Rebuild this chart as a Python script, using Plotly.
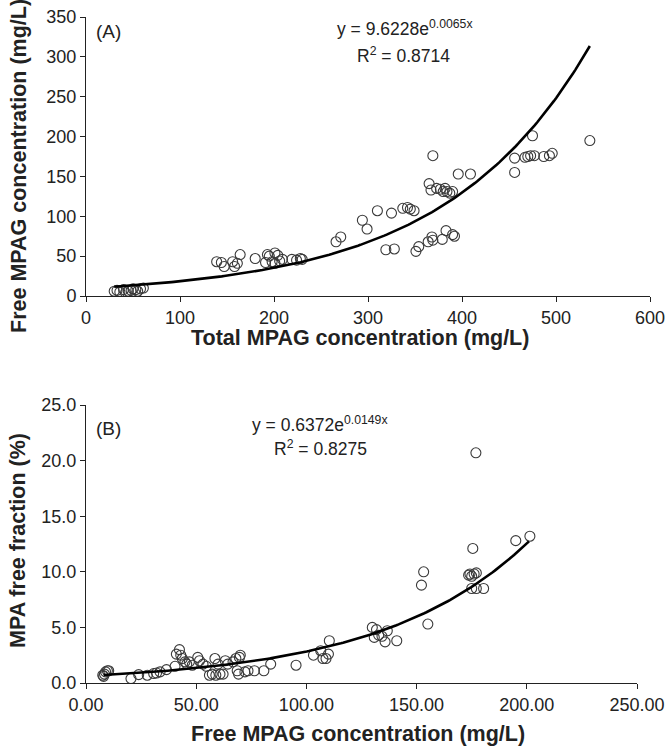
import numpy as np
import plotly.graph_objects as go

# Panel A: Total vs Free MPAG
a_total = [30, 33, 36, 40, 42, 45, 48, 50, 53, 55, 58, 61,
           139, 144, 147, 156, 158, 161, 164, 180, 191, 193, 195, 198, 201, 201, 204, 206, 209, 219, 224, 228, 230,
           266, 271, 294, 299, 310, 319, 325, 328, 337, 342, 345, 349, 351, 354, 364, 368, 369,
           365, 367, 369, 373, 377, 380, 382, 384, 387, 390, 379, 383, 390, 392, 396, 409,
           456, 456, 467, 470, 473, 475, 477, 487, 493, 496, 536]
a_free = [6, 7, 5, 8, 4, 6, 7, 9, 8, 6, 9, 10,
          43, 42, 37, 43, 37, 41, 52, 47, 42, 52, 50, 43, 54, 41, 51, 44, 46, 46, 45, 47, 46,
          68, 74, 95, 84, 107, 58, 104, 59, 110, 111, 109, 107, 56, 62, 68, 74, 70,
          141, 133, 176, 135, 134, 131, 135, 131, 129, 131, 71, 82, 77, 75, 153, 153,
          155, 173, 174, 175, 176, 201, 176, 175, 176, 179, 195]

# Panel B: Free MPAG vs MPA free fraction
b_free = [7.6, 8.4, 8.9, 9.7, 10.3, 8.0, 20.4, 23.9, 27.8, 30.7, 32.0, 33.6, 36.5, 40.4, 41.0, 42.4, 43.0, 43.7,
          44.9, 45.7, 46.9, 48.2, 50.7, 51.5, 53.1, 54.6, 56.0, 57.3, 58.5, 58.9, 59.9, 60.8, 62.2, 63.2, 64.3,
          66.7, 68.0, 68.6, 69.6, 70.0, 69.2, 72.1, 73.5, 76.4, 80.7, 83.8, 95.3, 103.2, 106.5, 107.5, 108.9,
          110.0, 110.4, 129.9, 130.8, 131.8, 132.8, 134.3, 135.7, 136.7, 141.0, 152.2, 153.2, 155.1,
          173.6, 174.2, 175.0, 175.5, 176.1, 177.1, 176.9, 175.0, 177.1, 180.4, 195.0, 201.4]
b_frac = [0.7, 0.8, 1.0, 1.1, 1.1, 0.6, 0.4, 0.75, 0.7, 0.85, 0.9, 1.0, 1.2, 1.5, 2.6, 3.0, 2.5, 2.2,
          1.9, 1.7, 1.9, 1.6, 2.3, 2.0, 1.7, 1.5, 0.7, 0.8, 2.2, 0.7, 1.7, 0.8, 0.8, 2.0, 1.7,
          1.9, 2.2, 1.1, 2.3, 2.5, 0.8, 1.0, 1.1, 1.1, 1.1, 1.7, 1.6, 2.5, 2.9, 2.2, 2.2,
          2.6, 3.8, 5.0, 4.1, 4.8, 4.3, 4.2, 3.7, 4.7, 3.8, 8.8, 10.0, 5.3,
          9.7, 9.8, 9.6, 12.1, 9.8, 9.9, 20.7, 8.5, 8.5, 8.5, 12.8, 13.2]

# Exponential trendlines (from reported equations)
a_coef, a_rate, a_xmin, a_xmax = 9.6228, 0.0065, 30, 536
b_coef, b_rate, b_xmin, b_xmax = 0.6372, 0.0149, 8, 201

W, H = 670, 749
def px(x): return x / W
def py(y): return 1 - y / H

fig = go.Figure()
marker = dict(symbol="circle-open", size=10, color="#3a3a3a", line=dict(width=1.1, color="#3a3a3a"))

fig.add_trace(go.Scatter(x=a_total, y=a_free, mode="markers", marker=marker,
                         xaxis="x", yaxis="y", showlegend=False))
xa = np.linspace(a_xmin, a_xmax, 200)
fig.add_trace(go.Scatter(x=xa, y=a_coef * np.exp(a_rate * xa), mode="lines",
                         line=dict(color="black", width=2.6), xaxis="x", yaxis="y", showlegend=False))

fig.add_trace(go.Scatter(x=b_free, y=b_frac, mode="markers", marker=marker,
                         xaxis="x2", yaxis="y2", showlegend=False))
xb = np.linspace(b_xmin, b_xmax, 200)
fig.add_trace(go.Scatter(x=xb, y=b_coef * np.exp(b_rate * xb), mode="lines",
                         line=dict(color="black", width=2.6), xaxis="x2", yaxis="y2", showlegend=False))

tf = "Liberation Sans, Arial, sans-serif"
font_tick = dict(family=tf, size=18, color="#222222")
axis_common = dict(showgrid=False, zeroline=False, showline=True, linecolor="#222222", linewidth=1,
                   ticks="outside", ticklen=5, tickcolor="#222222", tickfont=font_tick, automargin=False)

fig.update_layout(
    width=W, height=H, plot_bgcolor="white", paper_bgcolor="white",
    margin=dict(l=0, r=0, t=0, b=0),
    xaxis=dict(domain=[px(86), px(650)], range=[0, 600], tickvals=[0, 100, 200, 300, 400, 500, 600],
               anchor="y", **axis_common),
    yaxis=dict(domain=[py(296), py(17)], range=[0, 350], tickvals=[0, 50, 100, 150, 200, 250, 300, 350],
               anchor="x", **axis_common),
    xaxis2=dict(domain=[px(86), px(637)], range=[0, 250], tickvals=[0, 50, 100, 150, 200, 250],
                tickformat=".2f", anchor="y2", **axis_common),
    yaxis2=dict(domain=[py(683), py(405)], range=[0, 25], tickvals=[0, 5, 10, 15, 20, 25],
                tickformat=".1f", anchor="x2", **axis_common),
)

c = "#222222"
ann = [
    dict(x=px(109), y=py(31), text="(A)", font=dict(family=tf, size=19, color=c)),
    dict(x=px(405), y=py(28), text="y = 9.6228e<sup>0.0065x</sup>", font=dict(family=tf, size=17.5, color=c)),
    dict(x=px(403), y=py(55), text="R<sup>2</sup> = 0.8714", font=dict(family=tf, size=17.5, color=c)),
    dict(x=px(360), y=py(338), text="<b>Total MPAG concentration (mg/L)</b>", font=dict(family=tf, size=21.5, color=c)),
    dict(x=px(19), y=py(166), text="<b>Free MPAG concentration (mg/L)</b>", textangle=-90,
         font=dict(family=tf, size=21.5, color=c)),
    dict(x=px(109), y=py(428), text="(B)", font=dict(family=tf, size=19, color=c)),
    dict(x=px(320), y=py(424), text="y = 0.6372e<sup>0.0149x</sup>", font=dict(family=tf, size=17.5, color=c)),
    dict(x=px(320), y=py(448), text="R<sup>2</sup> = 0.8275", font=dict(family=tf, size=17.5, color=c)),
    dict(x=px(358), y=py(734), text="<b>Free MPAG concentration (mg/L)</b>", font=dict(family=tf, size=21.5, color=c)),
    dict(x=px(18), y=py(541), text="<b>MPA free fraction (%)</b>", textangle=-90,
         font=dict(family=tf, size=21.5, color=c)),
]
for a in ann:
    a.update(xref="paper", yref="paper", showarrow=False, xanchor="center", yanchor="middle")
fig.update_layout(annotations=ann)

fig.write_html("out.html", config={"displayModeBar": False},
               post_script="document.body.style.margin='0px';")
